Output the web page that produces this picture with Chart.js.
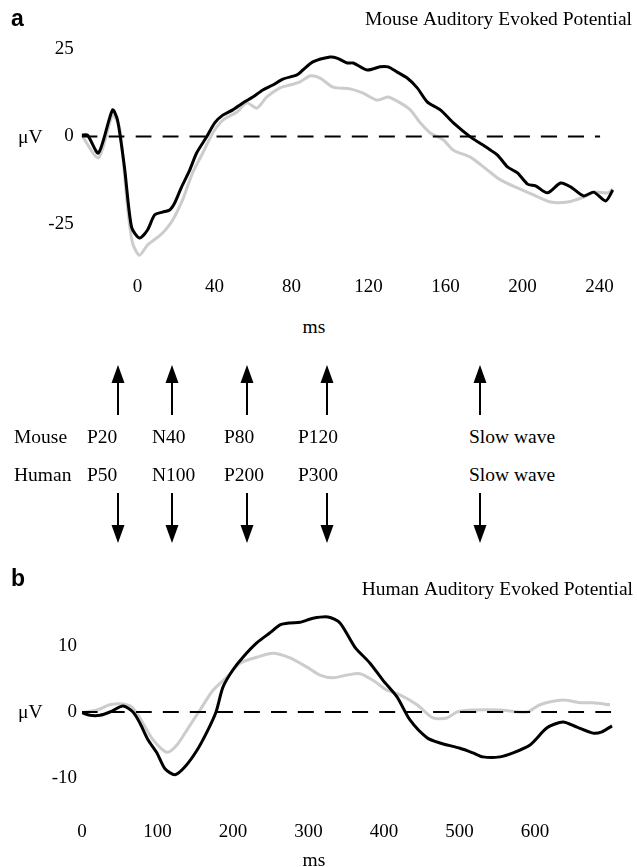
<!DOCTYPE html>
<html>
<head>
<meta charset="utf-8">
<title>Auditory Evoked Potentials</title>
<script src="https://cdn.jsdelivr.net/npm/chart.js@4.4.1/dist/chart.umd.min.js"></script>
<style>
  body { margin: 0; background: #fff; color: #000; font-family: "Liberation Serif", "Times New Roman", serif; }
  #page { position: relative; width: 637px; height: 867px; overflow: hidden; }
  canvas { position: absolute; left: 0; }
  .lbl { position: absolute; font-size: 19.5px; line-height: 1; white-space: nowrap; }
  .mid { transform: translateX(-50%); }
  .panel { position: absolute; font-family: "Liberation Sans", Arial, sans-serif; font-weight: bold; font-size: 23px; line-height: 1; }
  svg { position: absolute; left: 0; top: 0; }
</style>
</head>
<body>
<div id="page">
  <canvas id="mouseChart" width="637" height="310" style="top:0"></canvas>
  <canvas id="humanChart" width="637" height="297" style="top:570px"></canvas>

  <div class="panel" style="left:11px; top:7px">a</div>
  <div class="panel" style="left:11px; top:567px">b</div>
  <div class="lbl" style="left:18px; top:127px">μV</div>
  <div class="lbl" style="left:18px; top:702px">μV</div>
  <div class="lbl mid" style="left:314px; top:317px">ms</div>
  <div class="lbl mid" style="left:314px; top:850px">ms</div>
  <div id="components"></div>
  <svg id="arrows" width="637" height="867"></svg>
</div>

<script>
// mouse trace (ms, µV)
var mouseDarkMs = [-29, -26, -20.3, -13, -10.4, -6.8, -3.1, 1, 5.2, 8.9, 13, 16.7, 19.3, 22.9, 27.1, 30.7, 35.9, 40.1, 44.3, 49.5,
    54.7, 59.9, 65.1, 70.3, 75.5, 82.8, 85.9, 91.1, 100, 103.6, 108.9, 112, 119.3, 126, 130.2, 134.9, 140.1, 145.3, 150.5, 157.3,
    164.1, 172.9, 181.8, 187, 192.2, 197.4, 202.6, 206.8, 213, 219.8, 225, 231.8, 237, 243.2, 246.9];
var mouseDarkUv = [0.4, 0.4, -4.7, 7.6, 4.7, -8.7, -25.9, -29, -26.7, -22.4, -21.6, -21, -19, -14.4, -9.6, -4.7, -0.1, 3.9, 6.1, 7.6,
    9.6, 11.3, 13.3, 14.7, 16.4, 17.6, 19, 21.3, 22.7, 22.4, 21, 21, 19, 19.9, 19.9, 18.4, 16.7, 13.9, 9.9, 7.6,
    3.9, -0.1, -3.3, -5.3, -8.7, -10.4, -13.6, -14.1, -16.1, -13.3, -14.4, -17, -15.9, -18.4, -15.3];
var mouseLightMs = [-29, -20.3, -13, -9.4, -5.2, -2.6, 1, 5.2, 9.9, 13, 18.2, 23.4, 28.6, 33.9, 39.1, 44.3, 51.6, 56.8, 62, 67.2,
    74, 79.2, 84.4, 89.6, 94.8, 101.6, 110.4, 117.2, 124.5, 130.2, 136.5, 141.7, 146.9, 152.1, 158.9, 164.1, 172.9, 181.8, 188.5, 197.4,
    205.7, 214.6, 223.4, 231.8, 237, 244.3, 246.9];
var mouseLightUv = [0.4, -6.1, 6.1, 2.7, -20.1, -30.4, -33.9, -31, -29, -27.6, -23.9, -18.1, -10.4, -4.7, 1, 4.7, 7, 9.6, 8.1, 11.3,
    13.9, 14.7, 15.6, 17.3, 16.7, 14.1, 13.6, 12.4, 10.4, 11.3, 9.6, 7.6, 3.9, 1, -1, -3.9, -5.9, -9.6, -12.4, -14.7,
    -16.7, -18.7, -18.7, -17.3, -15.9, -16.1, -15];
var mouseBaselineMs = [-29, 240.3];

// human trace (ms, µV)
var humanDarkMs = [0, 10.6, 23.8, 37, 54.3, 67.5, 76.8, 87.4, 99.3, 109.9, 123.2, 136.4, 152.3, 166.9, 177.5, 186.8, 200, 213.2, 231.8, 249,
    262.3, 275.5, 288.7, 306, 325.8, 341.7, 361.6, 381.5, 398.7, 417.2, 434.4, 457, 474.2, 500.7, 517.9, 531.1, 553.6, 570.9, 593.4, 615.9,
    637.1, 655.6, 676.8, 688.7, 702];
var humanDarkUv = [-0.1, -0.5, -0.5, 0, 0.9, 0, -1.7, -4.2, -6.2, -8.6, -9.5, -8.3, -5.8, -2.7, 0, 3.8, 6.4, 8.3, 10.5, 12,
    13.2, 13.5, 13.6, 14.2, 14.4, 13.5, 9.8, 7.4, 4.8, 2.3, -1.2, -3.9, -4.7, -5.5, -6.2, -6.8, -6.8, -6.2, -5, -2.4,
    -1.5, -2.3, -3.2, -3, -2.1];
var humanLightMs = [0, 19.9, 37, 54.3, 67.5, 80.8, 94, 112.6, 125.8, 139.1, 156.3, 173.5, 192, 209.3, 231.8, 253, 275.5, 298, 315.2, 332.5,
    351, 368.2, 385.4, 404, 421.2, 443.7, 464.9, 483.4, 496.7, 517.9, 553.6, 589.4, 606.6, 637.1, 659.6, 676.8, 699.3];
var humanLightUv = [-0.1, 0.3, 1.1, 1.2, 0.6, -1.7, -4.2, -6.1, -5, -2.7, 0.3, 3.3, 5.3, 7.4, 8.3, 8.9, 8.2, 6.8, 5.6, 5.2,
    5.6, 5.8, 4.8, 3.3, 2.6, 1.1, -0.9, -0.9, 0, 0.3, 0.3, 0, 1.1, 1.8, 1.4, 1.4, 1.1];
var humanBaselineMs = [0, 702];

// tick labels
var mouseXTicks = [0, 40, 80, 120, 160, 200, 240];
var mouseYTicks = [-25, 0, 25];
var humanXTicks = [0, 100, 200, 300, 400, 500, 600];
var humanYTicks = [-10, 0, 10];

// component names between the panels
var mouseComponents = ['P20', 'N40', 'P80', 'P120', 'Slow wave'];
var humanComponents = ['P50', 'N100', 'P200', 'P300', 'Slow wave'];

var SERIF = '"Liberation Serif", "Times New Roman", serif';
Chart.defaults.font.family = SERIF;
Chart.defaults.color = '#000';

function points(xs, ys) {
    return xs.map(function(x, i) { return { x: x, y: ys[i] }; });
}

function evokedChart(id, p) {
    var ctx = document.getElementById(id).getContext('2d');
    return new Chart(ctx, {
        type: 'line',
        data: {
            datasets: [
                {
                    data: points(p.darkMs, p.darkUv),
                    borderColor: '#000',
                    borderWidth: 3,
                    order: 0
                },
                {
                    data: points(p.baseMs, [0, 0]),
                    borderColor: '#000',
                    borderWidth: 2,
                    borderDash: [16, 11],
                    order: 1
                },
                {
                    data: points(p.lightMs, p.lightUv),
                    borderColor: '#cccccc',
                    borderWidth: 3,
                    order: 2
                }
            ]
        },
        options: {
            responsive: false,
            animation: false,
            events: [],
            elements: { point: { radius: 0 }, line: { tension: 0.25 } },
            layout: { padding: { left: 0, right: p.padRight, top: 0, bottom: 0 } },
            plugins: {
                legend: { display: false },
                tooltip: { enabled: false },
                title: {
                    display: true,
                    text: p.title,
                    align: 'end',
                    color: '#000',
                    font: { family: SERIF, size: 19.5, weight: 'normal' },
                    padding: p.titlePad
                }
            },
            scales: {
                x: {
                    type: 'linear',
                    min: p.xMin,
                    max: p.xMax,
                    grid: { display: false, drawTicks: false },
                    border: { display: false },
                    ticks: { font: { size: 19 }, padding: p.xTickPad, maxRotation: 0 },
                    afterBuildTicks: function(scale) {
                        scale.ticks = p.xTicks.map(function(v) { return { value: v }; });
                    },
                    afterFit: function(scale) { scale.height = p.xAxisHeight; }
                },
                y: {
                    min: p.yMin,
                    max: p.yMax,
                    grid: { display: false, drawTicks: false },
                    border: { display: false },
                    ticks: { font: { size: 19 }, padding: p.yTickPad },
                    afterBuildTicks: function(scale) {
                        scale.ticks = p.yTicks.map(function(v) { return { value: v }; });
                    },
                    afterFit: function(scale) { scale.width = p.yAxisWidth; }
                }
            }
        }
    });
}

evokedChart('mouseChart', {
    title: 'Mouse Auditory Evoked Potential',
    darkMs: mouseDarkMs, darkUv: mouseDarkUv,
    lightMs: mouseLightMs, lightUv: mouseLightUv,
    baseMs: mouseBaselineMs,
    xTicks: mouseXTicks, yTicks: mouseYTicks,
    xMin: -29, xMax: 256.88, yMin: -38, yMax: 28,
    padRight: 5, titlePad: { top: 8.6, bottom: 6.5 },
    xAxisHeight: 40.5, xTickPad: 6.1, yAxisWidth: 81.7, yTickPad: 8
});

evokedChart('humanChart', {
    title: 'Human Auditory Evoked Potential',
    darkMs: humanDarkMs, darkUv: humanDarkUv,
    lightMs: humanLightMs, lightUv: humanLightUv,
    baseMs: humanBaselineMs,
    xTicks: humanXTicks, yTicks: humanYTicks,
    xMin: 0, xMax: 729.8, yMin: -13, yMax: 16,
    padRight: 4, titlePad: { top: 8.3, bottom: 4.7 },
    xAxisHeight: 69.2, xTickPad: 22.5, yAxisWidth: 82, yTickPad: 5
});

// component labels and arrows linking the two panels
var labelLeft = [87, 152, 224, 298, 469];
var arrowX = [118, 172, 247, 327, 480];
var box = document.getElementById('components');
var html = '<div class="lbl" style="left:14px; top:427px">Mouse</div>' +
           '<div class="lbl" style="left:14px; top:465px">Human</div>';
labelLeft.forEach(function(left, i) {
    html += '<div class="lbl" style="left:' + left + 'px; top:427px">' + mouseComponents[i] + '</div>';
    html += '<div class="lbl" style="left:' + left + 'px; top:465px">' + humanComponents[i] + '</div>';
});
box.innerHTML = html;

var svg = '';
arrowX.forEach(function(x) {
    svg += '<line x1="' + x + '" y1="415" x2="' + x + '" y2="381" stroke="#000" stroke-width="2"/>';
    svg += '<polygon points="' + x + ',365 ' + (x - 6.5) + ',383 ' + (x + 6.5) + ',383" fill="#000"/>';
    svg += '<line x1="' + x + '" y1="493" x2="' + x + '" y2="527" stroke="#000" stroke-width="2"/>';
    svg += '<polygon points="' + x + ',543 ' + (x - 6.5) + ',525 ' + (x + 6.5) + ',525" fill="#000"/>';
});
document.getElementById('arrows').innerHTML = svg;
</script>
</body>
</html>
